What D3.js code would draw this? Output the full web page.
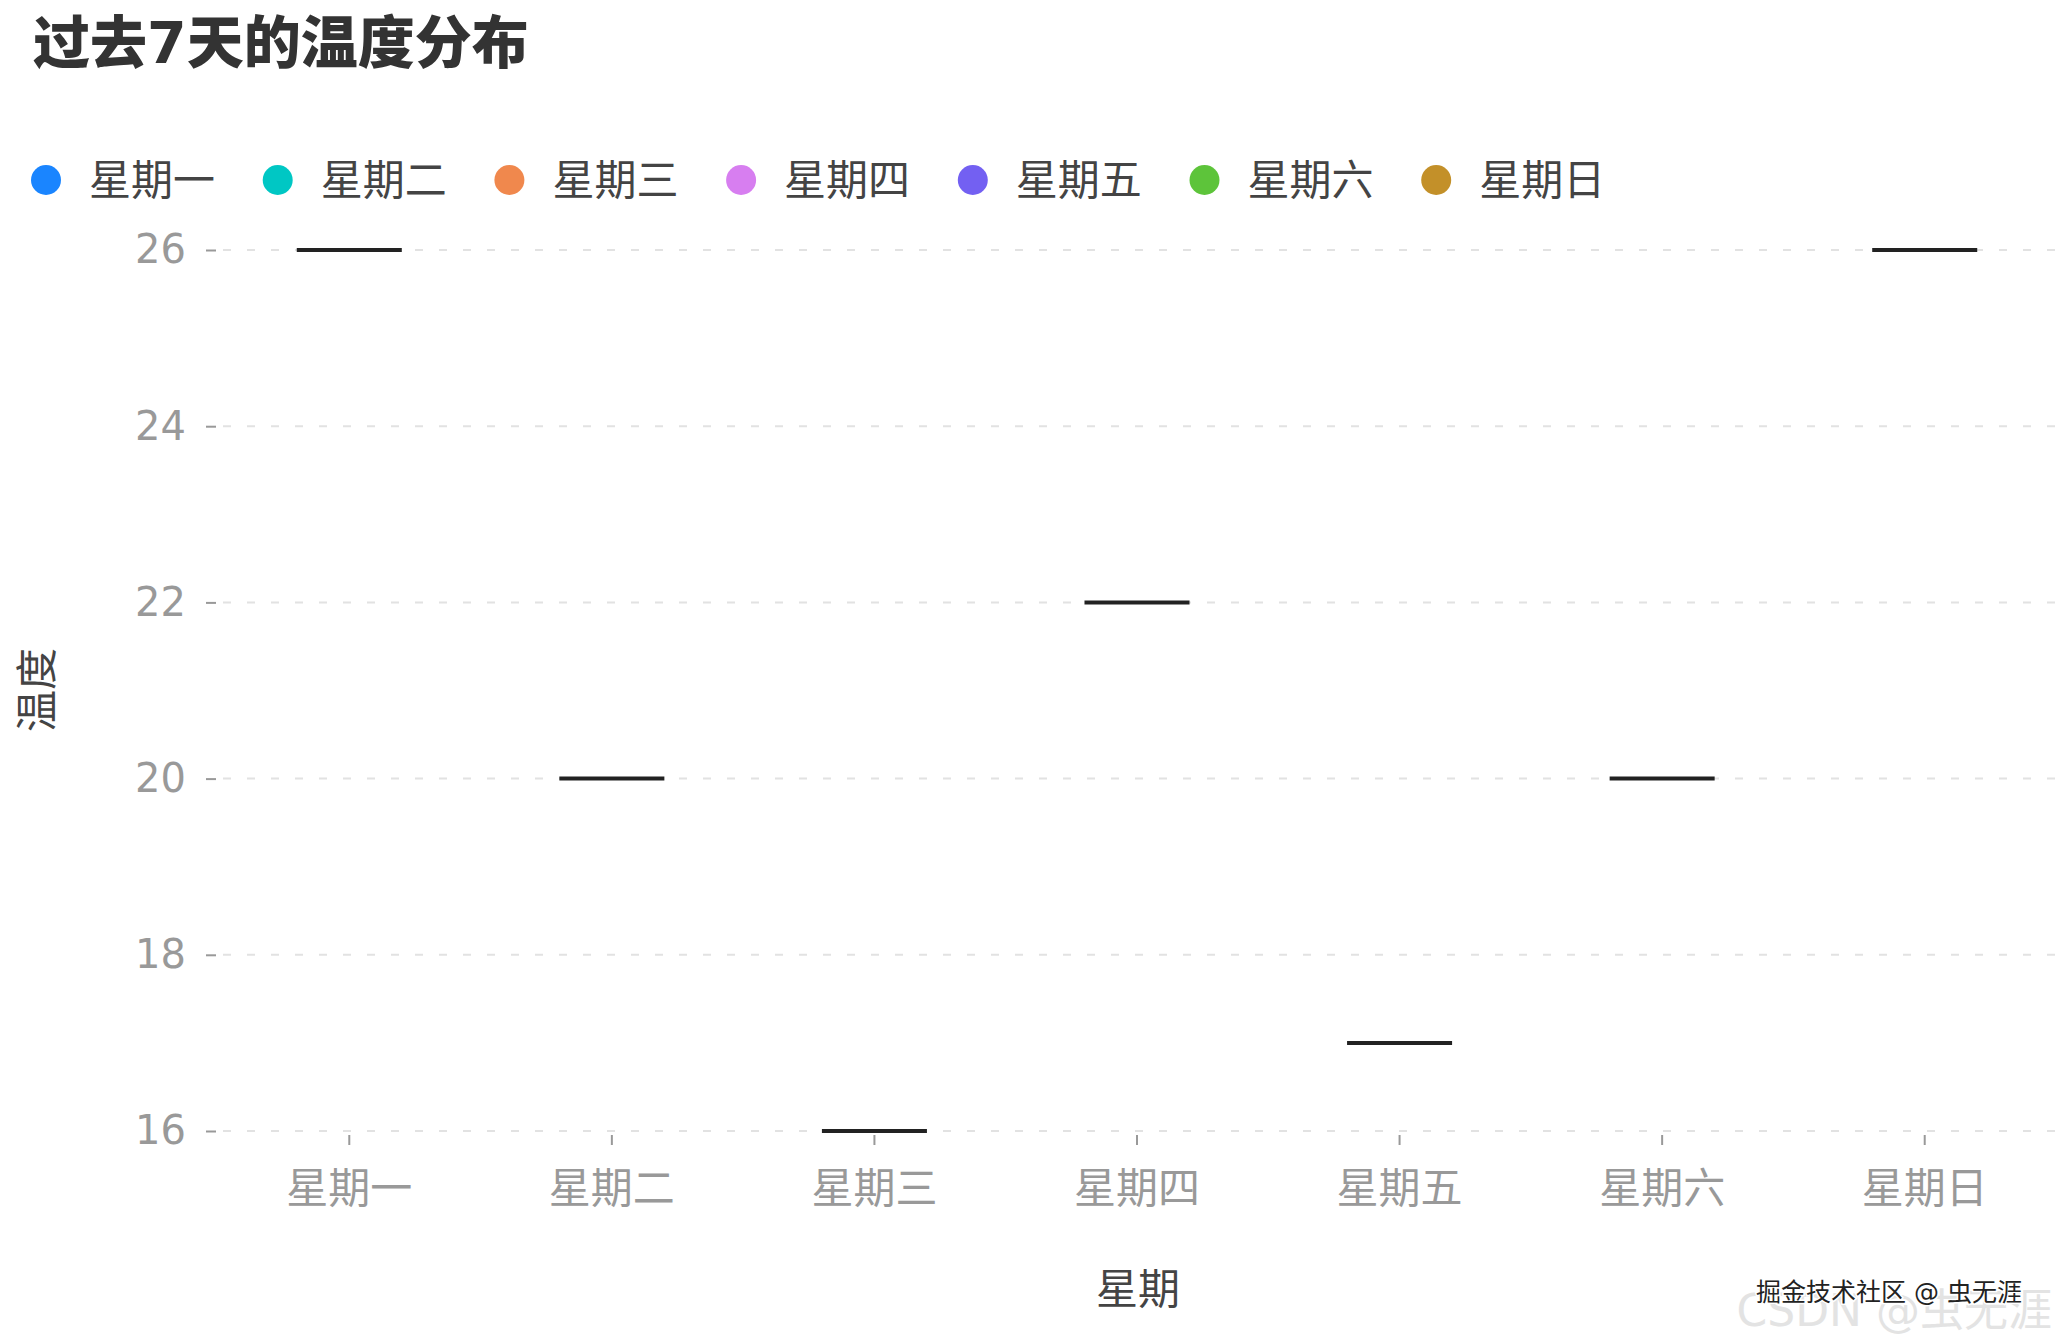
<!DOCTYPE html>
<html>
<head>
<meta charset="utf-8">
<script src="https://cdn.jsdelivr.net/npm/d3@7"></script>
<style>
  body { margin: 0; background: #fff; }
  svg text { font-family: "DejaVu Sans", "Noto Sans CJK SC", sans-serif; }
</style>
</head>
<body>
<svg id="chart" width="2055" height="1341"></svg>
<script>
// data
var days = ["星期一", "星期二", "星期三", "星期四", "星期五", "星期六", "星期日"]
var temps = [26, 20, 16, 22, 17, 20, 26]
var colors = ["#1a85ff", "#00c7c4", "#f0884d", "#d77ef0", "#7360f2", "#5dc43a", "#c39029"]
var yTicks = [16, 18, 20, 22, 24, 26]

var svg = d3.select("#chart")
svg.append("rect").attr("width", 2055).attr("height", 1341).attr("fill", "#fff")

var x = d3.scaleBand().domain(days).range([218, 2056])
var y = d3.scaleLinear().domain([16, 26]).range([1131, 250])

// title
svg.append("text")
    .attr("x", 33).attr("y", 63)
    .attr("font-size", 57).attr("font-weight", 900)
    .attr("fill", "#333")
    .text("过去7天的温度分布")

// legend
var legend = svg.append("g")
days.forEach(function(d, i) {
    var lx = 46 + i * 231.7
    legend.append("circle").attr("cx", lx).attr("cy", 180).attr("r", 15).attr("fill", colors[i])
    legend.append("text")
        .attr("x", lx + 43).attr("y", 180)
        .attr("dominant-baseline", "central")
        .attr("font-size", 42).attr("fill", "#444")
        .text(d)
})

// grid
svg.append("g").selectAll("line").data(yTicks).join("line")
    .attr("x1", 223).attr("x2", 2055)
    .attr("y1", function(d) { return y(d) }).attr("y2", function(d) { return y(d) })
    .attr("stroke", "#e2e2e2").attr("stroke-width", 2)
    .attr("stroke-dasharray", "8,16")

// y axis
var yAxis = svg.append("g").attr("transform", "translate(216,0)")
    .call(d3.axisLeft(y).tickValues(yTicks).tickSize(10).tickPadding(20))
yAxis.select(".domain").remove()
yAxis.selectAll(".tick line").attr("stroke", "#999").attr("stroke-width", 2)
yAxis.selectAll(".tick text").attr("font-size", 40).attr("fill", "#999")
    .attr("font-family", "\"DejaVu Sans\", \"Noto Sans CJK SC\", sans-serif")

// x axis
var xAxis = svg.append("g").attr("transform", "translate(0,1135)")
    .call(d3.axisBottom(x).tickSize(10).tickPadding(28))
xAxis.select(".domain").remove()
xAxis.selectAll(".tick line").attr("stroke", "#999").attr("stroke-width", 2)
xAxis.selectAll(".tick text").attr("font-size", 42).attr("fill", "#999")
    .attr("font-family", "\"DejaVu Sans\", \"Noto Sans CJK SC\", sans-serif")

// axis titles
svg.append("text")
    .attr("x", 1138).attr("y", 1289)
    .attr("text-anchor", "middle").attr("dominant-baseline", "central")
    .attr("font-size", 42).attr("fill", "#444")
    .text("星期")

svg.append("text")
    .attr("transform", "translate(37,690) rotate(-90)")
    .attr("text-anchor", "middle").attr("dominant-baseline", "central")
    .attr("font-size", 42).attr("fill", "#444")
    .text("温度")

// marks: one value per day, so each box collapses to a line
var bw = x.bandwidth() * 0.4
svg.append("g").selectAll("line").data(days).join("line")
    .attr("x1", function(d) { return x(d) + x.bandwidth() / 2 - bw / 2 })
    .attr("x2", function(d) { return x(d) + x.bandwidth() / 2 + bw / 2 })
    .attr("y1", function(d, i) { return y(temps[i]) })
    .attr("y2", function(d, i) { return y(temps[i]) })
    .attr("stroke", "#222").attr("stroke-width", 4)

// watermarks
svg.append("text")
    .attr("x", 2052).attr("y", 1310)
    .attr("text-anchor", "end").attr("dominant-baseline", "central")
    .attr("font-size", 44).attr("fill", "#e3e3e3")
    .text("CSDN @虫无涯")
svg.append("text")
    .attr("x", 2022).attr("y", 1292)
    .attr("text-anchor", "end").attr("dominant-baseline", "central")
    .attr("font-size", 25).attr("fill", "#222")
    .attr("stroke", "#fff").attr("stroke-width", 3).attr("paint-order", "stroke")
    .text("掘金技术社区 @ 虫无涯")
</script>
</body>
</html>
